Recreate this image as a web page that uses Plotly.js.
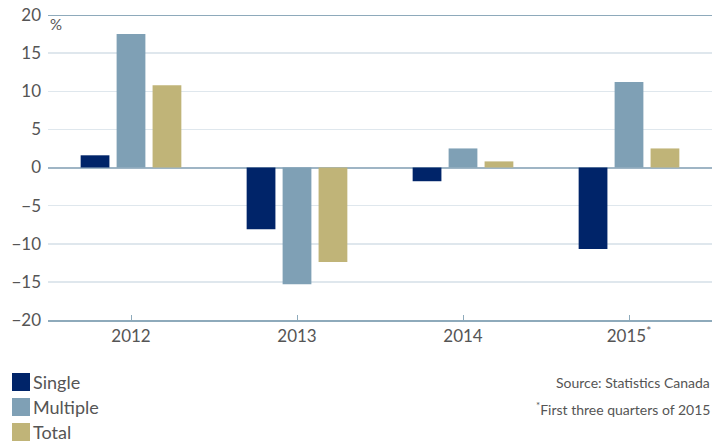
<!DOCTYPE html>
<html>
<head>
<meta charset="utf-8">
<script src="https://cdn.plot.ly/plotly-3.0.1.min.js"></script>
<style>html,body{margin:0;padding:0;background:#fff;}#chart{width:722px;height:444px;}</style>
</head>
<body>
<div id="chart"></div>
<script>
const categories = ["2012", "2013", "2014", "2015"];
const tickLabels = ["2012", "2013", "2014", "2015<sup>*</sup>"];
const seriesNames = ["Single", "Multiple", "Total"];
const single = [1.6, -8.1, -1.8, -10.7];
const multiple = [17.5, -15.3, 2.5, 11.2];
const total = [10.8, -12.4, 0.8, 2.5];
const colors = ["#002469", "#7fa0b5", "#c0b478"];
const seriesValues = [single, multiple, total];

const FONT = "Lato, 'Open Sans', sans-serif";
const traces = seriesValues.map((vals, i) => ({
  type: "bar",
  name: seriesNames[i],
  x: categories,
  y: vals,
  marker: {color: colors[i]},
  showlegend: false,
  hoverinfo: "x+y+name"
}));

const shapes = [{
  type: "line", xref: "paper", yref: "y", x0: 0, x1: 1, y0: 20, y1: 20,
  line: {color: "#8eaabb", width: 2}
}];
const annotations = [{
  xref: "paper", yref: "paper", x: 0.0, y: 0.97, xanchor: "left", yanchor: "middle",
  text: "%", showarrow: false, font: {family: FONT, size: 15, color: "#555"}
}, {
  xref: "paper", yref: "paper", x: 1, y: -0.205, xanchor: "right", yanchor: "middle",
  text: "Source: Statistics Canada", showarrow: false, font: {family: FONT, size: 14, color: "#555"}
}, {
  xref: "paper", yref: "paper", x: 1, y: -0.29, xanchor: "right", yanchor: "middle",
  text: "<sup>*</sup>First three quarters of 2015", showarrow: false, font: {family: FONT, size: 14, color: "#555"}
}];
// legend built from series names
seriesNames.forEach((name, i) => {
  const yc = 382 + i * 25; // pixel centre of row
  const yp = (320 - yc) / 305; // paper coordinate (plot bottom at 320, height 305)
  const xl = (12 - 48) / 664;
  const xr = (30 - 48) / 664;
  const half = 9 / 305;
  shapes.push({type: "rect", xref: "paper", yref: "paper", x0: xl, x1: xr, y0: yp - half, y1: yp + half,
    fillcolor: colors[i], line: {width: 0}});
  annotations.push({xref: "paper", yref: "paper", x: (31 - 48) / 664, y: yp, xanchor: "left", yanchor: "middle",
    text: name, showarrow: false, font: {family: FONT, size: 18, color: "#555"}});
});

const layout = {
  width: 722, height: 444,
  margin: {l: 48, r: 10, t: 15, b: 124},
  paper_bgcolor: "#fff", plot_bgcolor: "#fff",
  barmode: "group", bargap: 0.35, bargroupgap: 0.2,
  font: {family: FONT, color: "#555"},
  showlegend: false,
  xaxis: {
    type: "category", tickvals: categories, ticktext: tickLabels,
    showline: true, linecolor: "#8eaabb", linewidth: 2,
    ticks: "inside", ticklen: 5, tickcolor: "#8eaabb", tickwidth: 1,
    showgrid: false, tickfont: {family: FONT, size: 17, color: "#555"},
    fixedrange: true
  },
  yaxis: {
    range: [-20, 20], dtick: 5, tick0: 0,
    showgrid: true, gridcolor: "#dfe7ed", gridwidth: 1.5,
    zeroline: true, zerolinecolor: "#9fb5c5", zerolinewidth: 2,
    showline: false, ticks: "", ticklabelstandoff: 6,
    tickfont: {family: FONT, size: 17, color: "#555"},
    fixedrange: true
  },
  shapes: shapes,
  annotations: annotations
};
Plotly.newPlot("chart", traces, layout, {displayModeBar: false, staticPlot: true});
</script>
</body>
</html>
